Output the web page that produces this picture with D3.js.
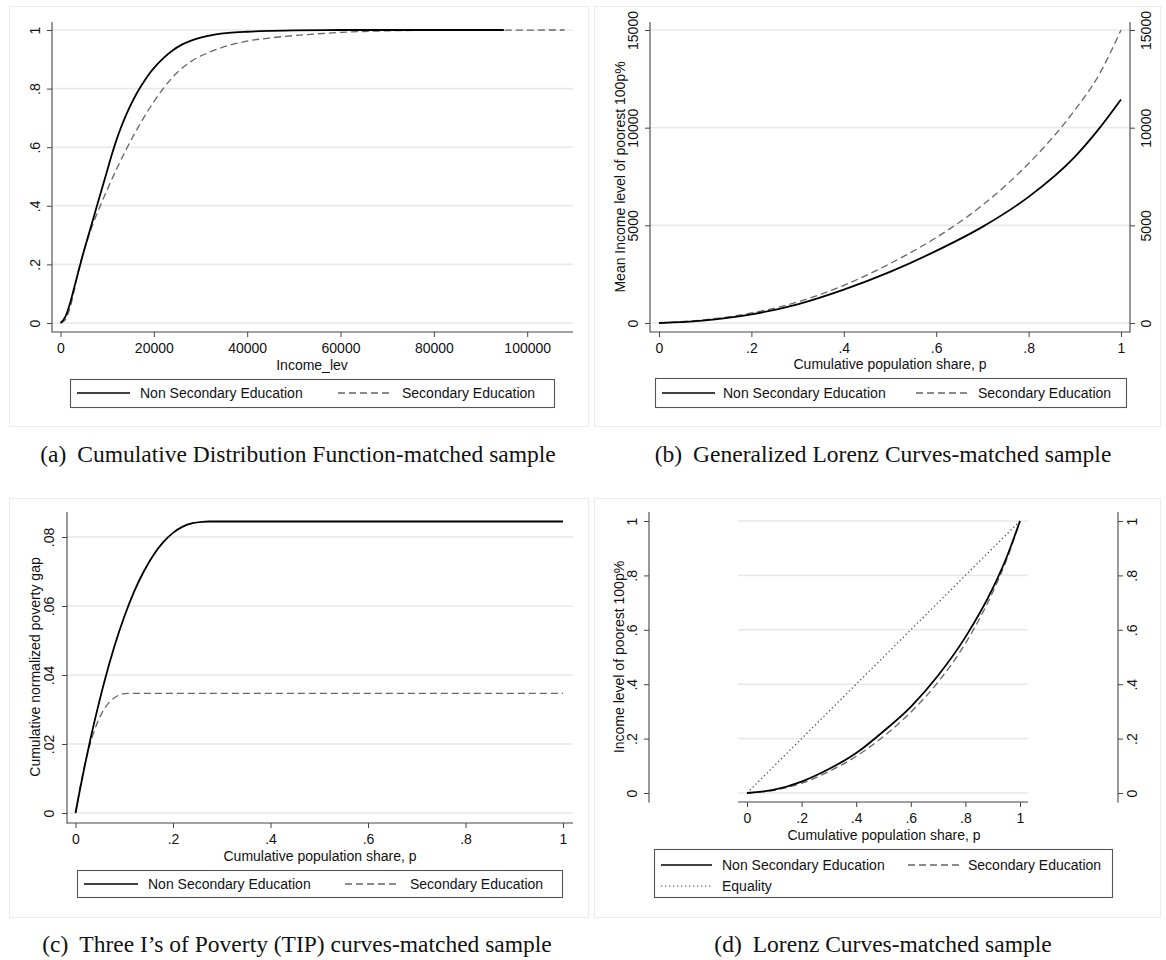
<!DOCTYPE html>
<html><head><meta charset="utf-8">
<script src="https://cdn.jsdelivr.net/npm/d3@7"></script>
<style>body{margin:0;background:#fff}</style>
</head><body>
<svg id="chart" width="1166" height="960" xmlns="http://www.w3.org/2000/svg"></svg>
<script>
// ---------- DATA ----------
// (a) CDF
const cdfNonSecX = [0,1000,2000,3000,4000,5000,6000,7000,8000,9000,10000,11000,12000,13000,14000,15000,16000,17000,18000,19000,20000,22000,24000,26000,28000,30000,33000,36000,40000,45000,50000,60000,95000];
const cdfNonSecY = [0,0.02,0.065,0.125,0.185,0.245,0.3,0.355,0.41,0.465,0.52,0.575,0.625,0.669,0.708,0.743,0.774,0.802,0.827,0.85,0.87,0.903,0.93,0.95,0.964,0.974,0.984,0.99,0.994,0.997,0.999,1.0,1.0];
const cdfSecX = [0,1000,2000,3000,4000,5000,6000,7000,8000,10000,12000,14000,16000,18000,20000,22000,25000,28000,32000,36000,40000,45000,50000,55000,60000,70000,80000,108000];
const cdfSecY = [0,0.01,0.05,0.115,0.19,0.245,0.295,0.34,0.38,0.455,0.525,0.59,0.65,0.705,0.755,0.8,0.855,0.893,0.925,0.947,0.962,0.973,0.981,0.987,0.992,0.997,0.999,1.0];
const cdfXTicks = [0,20000,40000,60000,80000,100000];
const cdfYTicks = [0,0.2,0.4,0.6,0.8,1];

// (b) Generalized Lorenz
const glP = [0,0.1,0.2,0.3,0.4,0.5,0.6,0.7,0.8,0.9,0.95,1];
const glNonSec = [0,137,444,957,1708,2614,3690,4920,6458,8508,9875,11446];
const glSec = [0,170,512,1076,1930,3041,4374,6030,8166,10900,12608,15000];
const glXTicks = [0,0.2,0.4,0.6,0.8,1];
const glYTicks = [0,5000,10000,15000];

// (c) TIP curves
const tipNonSecP = [0,0.01,0.02,0.03,0.045,0.06,0.08,0.1,0.12,0.14,0.16,0.18,0.2,0.22,0.24,0.26,0.273,1.0];
const tipNonSecY = [0,0.0074,0.0144,0.021,0.0301,0.0385,0.0484,0.0569,0.0641,0.07,0.0748,0.0785,0.0812,0.083,0.084,0.0844,0.0845,0.0845];
const tipSecP = [0,0.01,0.02,0.03,0.04,0.05,0.06,0.07,0.08,0.09,0.1,0.11,0.118,1.0];
const tipSecY = [0,0.0079,0.0146,0.02,0.0244,0.0278,0.0304,0.0322,0.0334,0.0342,0.0346,0.0347,0.0347,0.0347];
const tipXTicks = [0,0.2,0.4,0.6,0.8,1];
const tipYTicks = [0,0.02,0.04,0.06,0.08];

// (d) Lorenz
const lzP = [0,0.1,0.2,0.3,0.4,0.5,0.6,0.7,0.8,0.9,0.95,1];
const lzNonSec = [0,0.012,0.042,0.088,0.147,0.227,0.317,0.432,0.573,0.752,0.864,1.0];
const lzSec = [0,0.01,0.036,0.079,0.135,0.208,0.297,0.408,0.55,0.738,0.855,1.0];
const lzEqP = [0,1];
const lzEqY = [0,1];
const lzTicks = [0,0.2,0.4,0.6,0.8,1];

const legendNames = ["Non Secondary Education","Secondary Education","Equality"];
const captions = [
  ["(a)","Cumulative Distribution Function-matched sample"],
  ["(b)","Generalized Lorenz Curves-matched sample"],
  ["(c)","Three I\u2019s of Poverty (TIP) curves-matched sample"],
  ["(d)","Lorenz Curves-matched sample"]
];

// ---------- DRAWING ----------
const svg = d3.select("#chart");
const SANS = "'Liberation Sans', Arial, Helvetica, sans-serif";
const SERIF = "'Liberation Serif', 'Times New Roman', serif";
const AX = "#444", GRID = "#e9e9e9";
const fmtP = d => d===0?"0":(d===1?"1":d3.format(".2~f")(d).replace(/^0/,""));
const fmtI = d3.format("d");

function frame(x0,y0,x1,y1){
  svg.append("rect").attr("x",x0+0.5).attr("y",y0+0.5).attr("width",x1-x0).attr("height",y1-y0)
    .attr("fill","#fff").attr("stroke","#ececec").attr("stroke-width",1);
}
function grid(yScale, ticks, x0, x1){
  svg.append("g").selectAll("line").data(ticks).join("line")
    .attr("x1",x0).attr("x2",x1).attr("y1",d=>yScale(d)).attr("y2",d=>yScale(d))
    .attr("stroke",GRID).attr("stroke-width",1.6);
}
function axisLine(x1,y1,x2,y2){
  svg.append("line").attr("x1",x1).attr("y1",y1).attr("x2",x2).attr("y2",y2)
    .attr("stroke",AX).attr("stroke-width",1.1);
}
function xAxis(scale, ticks, y, fmt){
  const g = svg.append("g").attr("transform",`translate(0,${y})`)
    .call(d3.axisBottom(scale).tickValues(ticks).tickSize(5).tickPadding(6).tickFormat(fmt));
  g.select(".domain").remove();
  g.selectAll("line").attr("stroke",AX);
  g.selectAll("text").attr("fill","#111").style("font-family",SANS).style("font-size","14px");
}
function yAxis(scale, ticks, x, fmt, side, off){
  const ax = side==="left" ? d3.axisLeft(scale) : d3.axisRight(scale);
  const g = svg.append("g").attr("transform",`translate(${x},0)`)
    .call(ax.tickValues(ticks).tickSize(5).tickFormat(fmt));
  g.select(".domain").remove();
  g.selectAll("line").attr("stroke",AX);
  g.selectAll("text").attr("fill","#111").style("font-family",SANS).style("font-size","14px")
    .attr("transform","rotate(-90)").attr("x",0).attr("y",off).attr("dy",null)
    .attr("text-anchor","middle");
}
function ytitle(text, x, y){
  svg.append("text").attr("transform",`translate(${x},${y}) rotate(-90)`)
    .attr("text-anchor","middle").style("font-family",SANS).style("font-size","14px").attr("fill","#111").text(text);
}
function xtitle(text, x, y){
  svg.append("text").attr("x",x).attr("y",y).attr("text-anchor","middle")
    .style("font-family",SANS).style("font-size","14px").attr("fill","#111").text(text);
}
const SOLID = {stroke:"#000", w:1.8, dash:null};
const DASH = {stroke:"#666", w:1.3, dash:"7,4"};
const DOT = {stroke:"#444", w:1.2, dash:"1.3,2.7"};
function curve(xs, ys, xS, yS, st, linear){
  const line = d3.line().x(d=>xS(d[0])).y(d=>yS(d[1])).curve(linear?d3.curveLinear:d3.curveMonotoneX);
  svg.append("path").attr("d", line(xs.map((v,i)=>[v,ys[i]])))
    .attr("fill","none").attr("stroke",st.stroke).attr("stroke-width",st.w)
    .attr("stroke-dasharray",st.dash).attr("stroke-linejoin","round");
}
function legendBox(x0,y0,x1,y1){
  svg.append("rect").attr("x",x0+0.5).attr("y",y0+0.5).attr("width",x1-x0).attr("height",y1-y0)
    .attr("fill","#fff").attr("stroke","#555").attr("stroke-width",1.1);
}
function legendItem(lx0,lx1,y,tx,st,name){
  svg.append("line").attr("x1",lx0).attr("x2",lx1).attr("y1",y).attr("y2",y)
    .attr("stroke",st.stroke).attr("stroke-width",st.w===1.8?1.4:st.w).attr("stroke-dasharray",st.dash);
  svg.append("text").attr("x",tx).attr("y",y+5).style("font-family",SANS).style("font-size","14px")
    .attr("fill","#111").text(name);
}
function caption(c, cx, y){
  const t = svg.append("text").attr("x",cx).attr("y",y).attr("text-anchor","middle")
    .style("font-family",SERIF).style("font-size","23.5px").attr("fill","#111");
  t.append("tspan").text(c[0]);
  t.append("tspan").attr("dx",11).text(c[1]);
}

// panel frames
frame(9,6,588,426); frame(594,6,1160,426); frame(9,498,588,917); frame(594,498,1160,917);

// ----- (a) -----
{
  const x = d3.scaleLinear().domain([0,100000]).range([60.5,527.2]);
  const y = d3.scaleLinear().domain([0,1]).range([323,30]);
  grid(y, cdfYTicks, 52, 573);
  axisLine(52,22,52,332.5); axisLine(52,332,573,332);
  xAxis(x, cdfXTicks, 332, fmtI);
  yAxis(y, cdfYTicks, 52, fmtP, "left", -12);
  curve(cdfSecX, cdfSecY, x, y, DASH);
  curve(cdfNonSecX, cdfNonSecY, x, y, SOLID);
  xtitle("Income_lev", 312, 370);
  legendBox(70,379,554,407);
  legendItem(77,130,393,140,SOLID,legendNames[0]);
  legendItem(338,393,393,402,DASH,legendNames[1]);
}
// ----- (b) -----
{
  const x = d3.scaleLinear().domain([0,1]).range([659,1121]);
  const y = d3.scaleLinear().domain([0,15000]).range([323,30]);
  grid(y, glYTicks, 650, 1130);
  axisLine(650,22,650,332.5); axisLine(650,332,1130,332); axisLine(1130,22,1130,332.5);
  xAxis(x, glXTicks, 332, fmtP);
  yAxis(y, glYTicks, 650, fmtI, "left", -12);
  yAxis(y, glYTicks, 1130, fmtI, "right", 21);
  curve(glP, glSec, x, y, DASH);
  curve(glP, glNonSec, x, y, SOLID);
  xtitle("Cumulative population share, p", 890, 369);
  ytitle("Mean Income level of poorest 100p%", 625, 177);
  legendBox(655,378,1126,407);
  legendItem(662,715,393,723,SOLID,legendNames[0]);
  legendItem(916,971,393,978,DASH,legendNames[1]);
}
// ----- (c) -----
{
  const x = d3.scaleLinear().domain([0,1]).range([75.5,563]);
  const y = d3.scaleLinear().domain([0,0.08]).range([813,537]);
  grid(y, tipYTicks, 67, 573);
  axisLine(67,512,67,823.5); axisLine(67,823,573,823);
  xAxis(x, tipXTicks, 823, fmtP);
  yAxis(y, tipYTicks, 67, fmtP, "left", -13);
  curve(tipSecP, tipSecY, x, y, DASH);
  curve(tipNonSecP, tipNonSecY, x, y, SOLID);
  xtitle("Cumulative population share, p", 320, 861);
  ytitle("Cumulative normalized poverty gap", 40, 667);
  legendBox(77,870,562,897);
  legendItem(84,138,884,148,SOLID,legendNames[0]);
  legendItem(345,400,884,410,DASH,legendNames[1]);
}
// ----- (d) -----
{
  const x = d3.scaleLinear().domain([0,1]).range([747,1020]);
  const y = d3.scaleLinear().domain([0,1]).range([793,521]);
  grid(y, lzTicks, 738, 1028);
  axisLine(649,512,649,802.5); axisLine(738,802,1028,802); axisLine(1118,512,1118,802.5);
  xAxis(x, lzTicks, 802, fmtP);
  yAxis(y, lzTicks, 649, fmtP, "left", -12);
  yAxis(y, lzTicks, 1118, fmtP, "right", 19);
  curve(lzEqP, lzEqY, x, y, DOT, true);
  curve(lzP, lzSec, x, y, DASH);
  curve(lzP, lzNonSec, x, y, SOLID);
  xtitle("Cumulative population share, p", 884, 840);
  ytitle("Income level of poorest 100p%", 624, 657);
  legendBox(654,849,1112,897);
  legendItem(661,712,865,722,SOLID,legendNames[0]);
  legendItem(908,960,865,968,DASH,legendNames[1]);
  legendItem(661,712,886,722,DOT,legendNames[2]);
}
// captions
caption(captions[0], 298, 462);
caption(captions[1], 883, 462);
caption(captions[2], 297, 952);
caption(captions[3], 883, 952);
</script>
</body></html>
